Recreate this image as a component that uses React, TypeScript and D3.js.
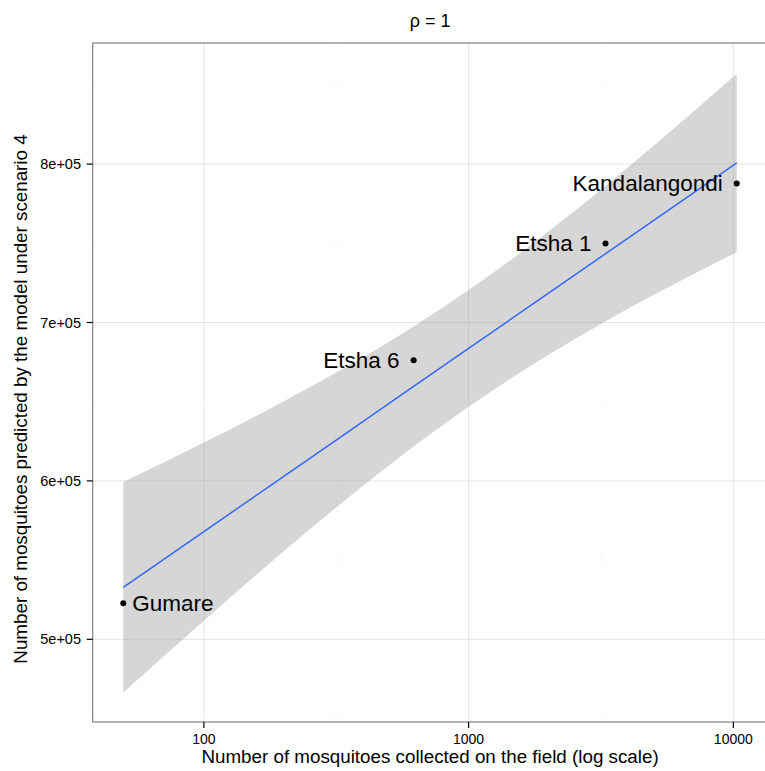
import React from "react";
import * as d3 from "d3";

// Observed data points
const sites = ["Gumare", "Etsha 6", "Etsha 1", "Kandalangondi"];
const collected = [49.6, 620, 3289, 10300];
const predicted = [522700, 676200, 749900, 787800];
const labelSide = ["right", "left", "left", "left"];

// Smoother (linear fit and confidence band)
const bandX = [49.6, 100, 177.8, 316.2, 562.3, 1000, 1778, 3162, 5623, 10300];
const bandLow = [466360, 511790, 548180, 583250, 616350, 646800, 674270, 699070, 721880, 744410];
const bandHigh = [599280, 624210, 645620, 668370, 693090, 720460, 750790, 783810, 818820, 857070];
const fitY = [532820, 568000, 596900, 625810, 654720, 683630, 712530, 741440, 770350, 800740];

// Axes
const xTicks = [100, 1000, 10000];
const xTickLabels = ["100", "1000", "10000"];
const xMinor = [316.2, 3162];
const yTicks = [500000, 600000, 700000, 800000];
const yTickLabels = ["5e+05", "6e+05", "7e+05", "8e+05"];
const yMinor = [450000, 550000, 650000, 750000, 850000];

const title = "ρ = 1";
const xTitle = "Number of mosquitoes collected on the field (log scale)";
const yTitle = "Number of mosquitoes predicted by the model under  scenario 4";

const W = 765;
const H = 771;
const L = 92.7;
const R = 767.4;
const T = 43;
const B = 722;
const FONT = "'Liberation Sans', Arial, Helvetica, sans-serif";

export default function App() {
  const x = d3.scaleLog().domain([Math.pow(10, 1.58), Math.pow(10, 4.1287)]).range([L, R]);
  const y = d3.scaleLinear().domain([447800, 876450]).range([B, T]);

  const band = bandX.map((v, i) => ({ x: v, lo: bandLow[i], hi: bandHigh[i], f: fitY[i] }));
  const area = d3
    .area<any>()
    .x((d) => x(d.x))
    .y0((d) => y(d.lo))
    .y1((d) => y(d.hi))
    .curve(d3.curveMonotoneX);
  const line = d3
    .line<any>()
    .x((d) => x(d.x))
    .y((d) => y(d.f));

  return (
    <svg
      width={W}
      height={H}
      style={{ position: "absolute", left: 0, top: 0, background: "#fff" }}
      fontFamily={FONT}
    >
      <rect x={0} y={0} width={W} height={H} fill="#fff" />
      <defs>
        <clipPath id="panel">
          <rect x={L} y={T} width={R - L} height={B - T} />
        </clipPath>
      </defs>
      <g clipPath="url(#panel)">
        {yMinor.map((v) => (
          <line key={"ym" + v} x1={L} x2={R} y1={y(v)} y2={y(v)} stroke="#FAFAFA" strokeWidth={1} />
        ))}
        {xMinor.map((v) => (
          <line key={"xm" + v} x1={x(v)} x2={x(v)} y1={T} y2={B} stroke="#FAFAFA" strokeWidth={1} />
        ))}
        {yTicks.map((v) => (
          <line key={"yg" + v} x1={L} x2={R} y1={y(v)} y2={y(v)} stroke="#E5E5E5" strokeWidth={1} />
        ))}
        {xTicks.map((v) => (
          <line key={"xg" + v} x1={x(v)} x2={x(v)} y1={T} y2={B} stroke="#E5E5E5" strokeWidth={1} />
        ))}
        <path d={area(band) || ""} fill="#999999" fillOpacity={0.4} />
        <path d={line(band) || ""} fill="none" stroke="#3366FF" strokeWidth={1.5} />
        {collected.map((v, i) => (
          <circle key={"p" + i} cx={x(v)} cy={y(predicted[i])} r={3} fill="#000" />
        ))}
        {collected.map((v, i) => {
          const right = labelSide[i] === "right";
          return (
            <text
              key={"l" + i}
              x={x(v) + (right ? 9 : -14)}
              y={y(predicted[i]) + 8}
              textAnchor={right ? "start" : "end"}
              fontSize={22.5}
              fill="#000"
            >
              {sites[i]}
            </text>
          );
        })}
      </g>
      <rect x={L} y={T} width={R - L} height={B - T} fill="none" stroke="#7F7F7F" strokeWidth={1.2} />

      {/* y axis */}
      {yTicks.map((v, i) => (
        <g key={"yt" + v}>
          <line x1={L - 6} x2={L} y1={y(v)} y2={y(v)} stroke="#000" strokeWidth={1.2} />
          <text x={81} y={y(v) + 5} textAnchor="end" fontSize={14.5} fill="#000">
            {yTickLabels[i]}
          </text>
        </g>
      ))}
      {/* x axis */}
      {xTicks.map((v, i) => (
        <g key={"xt" + v}>
          <line x1={x(v)} x2={x(v)} y1={B} y2={B + 6} stroke="#000" strokeWidth={1.2} />
          <text x={x(v)} y={744} textAnchor="middle" fontSize={14} fill="#000">
            {xTickLabels[i]}
          </text>
        </g>
      ))}

      <text x={(L + R) / 2} y={27} textAnchor="middle" fontSize={18} fill="#000">
        {title}
      </text>
      <text x={(L + R) / 2} y={762.5} textAnchor="middle" fontSize={18.8} fill="#000">
        {xTitle}
      </text>
      <text
        transform={`translate(27, 399) rotate(-90)`}
        textAnchor="middle"
        fontSize={18.8}
        fill="#000"
      >
        {yTitle}
      </text>
    </svg>
  );
}
